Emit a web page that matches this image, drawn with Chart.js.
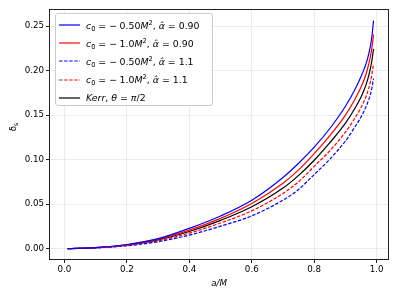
<!DOCTYPE html>
<html>
<head>
<meta charset="utf-8">
<script src="https://cdn.jsdelivr.net/npm/chart.js@4.4.1/dist/chart.umd.min.js"></script>
<style>
  html, body { margin: 0; padding: 0; background: #fff; }
  #wrap { position: relative; width: 399px; height: 299px; }
  #legend {
    position: absolute; left: 55px; top: 13px; width: 158px; height: 93px;
    border: 1px solid #cccccc; border-radius: 3px; background: rgba(255,255,255,0.85);
    font-family: "DejaVu Sans", sans-serif; font-size: 9.4px; color: #000;
    box-sizing: border-box;
  }
  .row { position: absolute; left: 0; height: 14px; display: flex; align-items: center; white-space: nowrap; }
  .row svg { margin-left: 3px; margin-right: 6px; }
  .row sub { font-size: 6.6px; vertical-align: -2px; line-height: 0; }
  .row sup { font-size: 6.6px; vertical-align: 4px; line-height: 0; }
  .sp { display: inline-block; width: 2.5px; }
  #ylab { position: absolute; left: 9px; top: 122px; transform: rotate(-90deg); transform-origin: center;
    font-family: "DejaVu Sans", sans-serif; font-size: 8.7px; }
  #ylab sub { font-size: 6.2px; vertical-align: -2px; line-height: 0; }
</style>
</head>
<body>
<div id="wrap">
  <canvas id="c" width="399" height="299"></canvas>
  <div id="legend"></div>
  <div id="ylab">δ<sub>s</sub></div>
</div>
<script>
// ---- data ----
const spin = [0.01,0.1,0.2,0.3,0.4,0.5,0.6,0.7,0.75,0.8,0.85,0.9,0.93,0.95,0.96,0.97,0.98,0.985,0.99];
const c050_a090 = [0.0000,0.0012,0.0046,0.0112,0.0228,0.0367,0.0544,0.0800,0.0960,0.1140,0.1350,0.1600,0.1785,0.1935,0.2020,0.2125,0.2275,0.2395,0.2563];
const c100_a090 = [0.0000,0.0011,0.0043,0.0106,0.0208,0.0340,0.0507,0.0735,0.0885,0.1068,0.1270,0.1500,0.1675,0.1815,0.1900,0.2010,0.2160,0.2265,0.2406];
const c050_a110 = [0.0000,0.0008,0.0032,0.0078,0.0152,0.0252,0.0368,0.0545,0.0665,0.0833,0.1005,0.1210,0.1365,0.1480,0.1550,0.1630,0.1735,0.1810,0.1910];
const c100_a110 = [0.0000,0.0009,0.0036,0.0089,0.0174,0.0288,0.0425,0.0620,0.0752,0.0925,0.1100,0.1310,0.1465,0.1585,0.1660,0.1750,0.1875,0.1965,0.2077];
const kerr      = [0.0000,0.0010,0.0040,0.0098,0.0192,0.0317,0.0470,0.0680,0.0823,0.0993,0.1190,0.1410,0.1575,0.1705,0.1785,0.1885,0.2025,0.2120,0.2245];
const xTicks = [0.0,0.2,0.4,0.6,0.8,1.0];
const yTicks = [0.00,0.05,0.10,0.15,0.20,0.25];
const S = '<span class="sp"></span>';
const seriesLabels = [
  '<i>c</i><sub>0</sub> = −' + S + '0.50<i>M</i><sup>2</sup>, <i>α̂</i> = 0.90',
  '<i>c</i><sub>0</sub> = −' + S + '1.0<i>M</i><sup>2</sup>, <i>α̂</i> = 0.90',
  '<i>c</i><sub>0</sub> = −' + S + '0.50<i>M</i><sup>2</sup>, <i>α̂</i> = 1.1',
  '<i>c</i><sub>0</sub> = −' + S + '1.0<i>M</i><sup>2</sup>, <i>α̂</i> = 1.1',
  '<i>Kerr</i>, <i>θ</i> = <i>π</i>/2'
];
const seriesPlain = ['c0=-0.50M^2, alpha=0.90','c0=-1.0M^2, alpha=0.90','c0=-0.50M^2, alpha=1.1','c0=-1.0M^2, alpha=1.1','Kerr, theta=pi/2'];
const seriesValues = [c050_a090, c100_a090, c050_a110, c100_a110, kerr];
const seriesColors = ['#0000ff','#ff0000','#0000ff','#ff0000','#000000'];
const seriesDash = [[],[],[3.5,1.6],[3.5,1.6],[]];

const FONT = {family: 'DejaVu Sans', size: 8.7};

const datasets = seriesValues.map((vals, i) => ({
  label: seriesPlain[i],
  data: spin.map((x, j) => ({x: x, y: vals[j]})),
  borderColor: seriesColors[i],
  borderWidth: 1.2,
  borderDash: seriesDash[i],
  pointRadius: 0,
  fill: false,
  cubicInterpolationMode: 'monotone'
}));

const frame = {
  id: 'frame',
  afterDraw(chart) {
    const a = chart.chartArea, ctx = chart.ctx;
    ctx.save();
    ctx.strokeStyle = '#222';
    ctx.lineWidth = 1;
    ctx.strokeRect(Math.round(a.left) + 0.5, Math.round(a.top) + 0.5, Math.round(a.right - a.left) - 1, Math.round(a.bottom - a.top) - 1);
    ctx.restore();
  }
};

new Chart(document.getElementById('c'), {
  type: 'line',
  data: { datasets: datasets },
  plugins: [frame],
  options: {
    responsive: false,
    animation: false,
    layout: { padding: { left: 0, top: 9, right: 10, bottom: 0 } },
    plugins: { legend: { display: false }, tooltip: { enabled: false } },
    scales: {
      x: {
        type: 'linear',
        min: -0.0495, max: 1.0395,
        afterBuildTicks: s => { s.ticks = xTicks.map(v => ({value: v})); },
        afterFit: s => { s.height = 39; },
        ticks: { font: FONT, color: '#000', padding: 2, maxRotation: 0, callback: v => v.toFixed(1) },
        grid: { color: '#ebebeb', tickColor: '#222', tickLength: 3, lineWidth: 1 },
        border: { display: false },
        title: { display: true, text: 'a/M', font: {family: 'DejaVu Sans', size: 8.7, style: 'italic'}, color: '#000', padding: {top: 0, bottom: 10} }
      },
      y: {
        type: 'linear',
        min: -0.0128, max: 0.2693,
        afterBuildTicks: s => { s.ticks = yTicks.map(v => ({value: v})); },
        afterFit: s => { s.width = 49; },
        ticks: { font: FONT, color: '#000', padding: 2, callback: v => v.toFixed(2) },
        grid: { color: '#ebebeb', tickColor: '#222', tickLength: 3, lineWidth: 1 },
        border: { display: false }
      }
    }
  }
});

// HTML legend built from the series arrays
const leg = document.getElementById('legend');
seriesLabels.forEach((lab, i) => {
  const row = document.createElement('div');
  row.className = 'row';
  row.style.top = (4 + i * 18.2) + 'px';
  const dash = seriesDash[i].length ? ' stroke-dasharray="' + seriesDash[i].join(',') + '"' : '';
  row.innerHTML = '<svg width="21" height="6"><line x1="0" y1="3" x2="21" y2="3" stroke="' + seriesColors[i] + '" stroke-width="1.2"' + dash + '/></svg><span>' + lab + '</span>';
  leg.appendChild(row);
});
</script>
</body>
</html>
